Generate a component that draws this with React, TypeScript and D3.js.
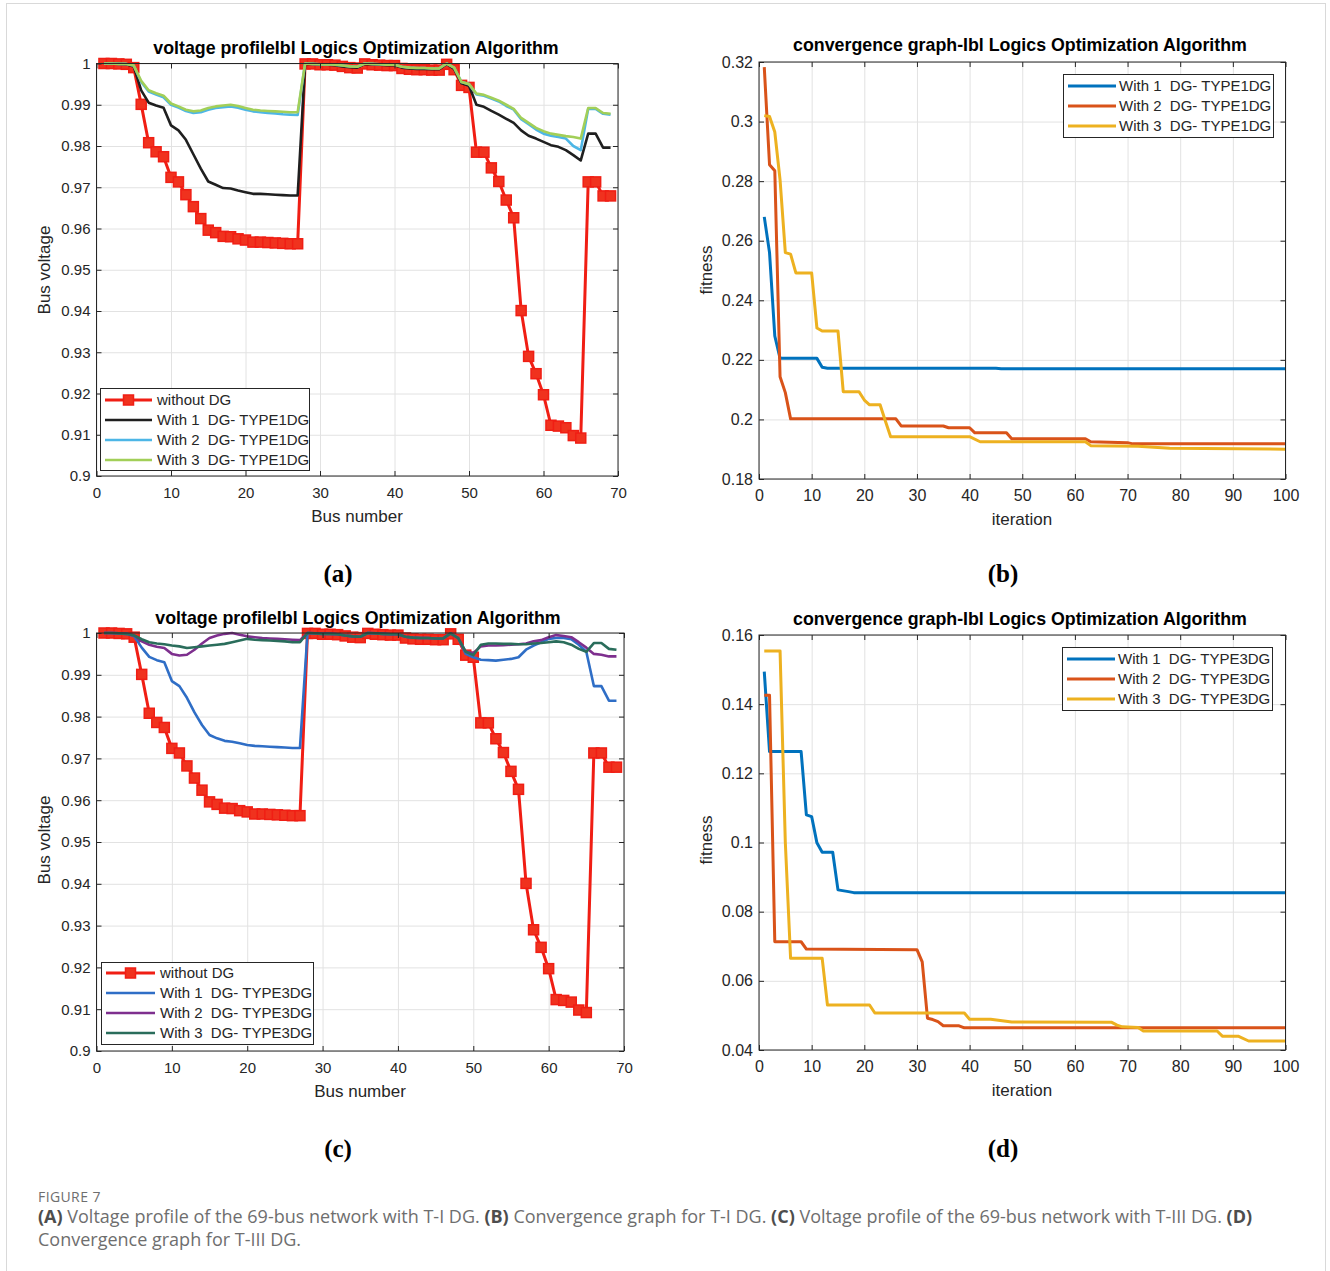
import React, { useRef, useEffect } from 'react';
import * as d3 from 'd3';

// ---- data ----
const busNumbers = d3.range(1, 70);
const busTicks = [0, 10, 20, 30, 40, 50, 60, 70];
const voltageTicks = [0.9, 0.91, 0.92, 0.93, 0.94, 0.95, 0.96, 0.97, 0.98, 0.99, 1];
const iterTicks = [0, 10, 20, 30, 40, 50, 60, 70, 80, 90, 100];
const fitnessTicksB = [0.18, 0.2, 0.22, 0.24, 0.26, 0.28, 0.3, 0.32];
const fitnessTicksD = [0.04, 0.06, 0.08, 0.1, 0.12, 0.14, 0.16];

const voltageNoDG = [
  1.0000, 1.0000, 0.9999, 0.9998, 0.9990, 0.9901, 0.9808, 0.9786, 0.9774, 0.9724,
  0.9713, 0.9682, 0.9653, 0.9624, 0.9596, 0.9590, 0.9581, 0.9580, 0.9575, 0.9572,
  0.9567, 0.9567, 0.9566, 0.9565, 0.9564, 0.9563, 0.9563, 0.9999, 0.9999, 0.9997,
  0.9997, 0.9996, 0.9993, 0.9990, 0.9989, 0.9999, 0.9997, 0.9996, 0.9995, 0.9995,
  0.9988, 0.9986, 0.9985, 0.9985, 0.9984, 0.9984, 0.9998, 0.9985, 0.9947, 0.9942,
  0.9785, 0.9785, 0.9747, 0.9714, 0.9669, 0.9626, 0.9401, 0.9290, 0.9248, 0.9197,
  0.9123, 0.9121, 0.9117, 0.9098, 0.9092, 0.9713, 0.9713, 0.9679, 0.9679,
];

const voltageT1DG1 = [
  1.0000, 1.0000, 0.9999, 0.9998, 0.9993, 0.9935, 0.9905, 0.9898, 0.9893, 0.9850,
  0.9838, 0.9815, 0.9780, 0.9745, 0.9714, 0.9706, 0.9698, 0.9697, 0.9692, 0.9688,
  0.9684, 0.9684, 0.9683, 0.9682, 0.9681, 0.9680, 0.9680, 0.9999, 0.9999, 0.9997,
  0.9997, 0.9996, 0.9993, 0.9991, 0.9990, 0.9999, 0.9998, 0.9997, 0.9996, 0.9996,
  0.9990, 0.9988, 0.9987, 0.9987, 0.9986, 0.9986, 0.9999, 0.9987, 0.9952, 0.9946,
  0.9900, 0.9895, 0.9885, 0.9876, 0.9866, 0.9856, 0.9838, 0.9825, 0.9818, 0.9810,
  0.9802, 0.9798, 0.9790, 0.9778, 0.9765, 0.9830, 0.9830, 0.9796, 0.9796,
];

const voltageT1DG2 = [
  1.0000, 1.0000, 0.9999, 0.9999, 0.9995, 0.9955, 0.9932, 0.9925, 0.9918, 0.9900,
  0.9893, 0.9885, 0.9880, 0.9882, 0.9888, 0.9892, 0.9894, 0.9896, 0.9893, 0.9888,
  0.9884, 0.9882, 0.9880, 0.9879, 0.9877, 0.9876, 0.9875, 1.0000, 0.9999, 0.9998,
  0.9998, 0.9997, 0.9995, 0.9993, 0.9992, 1.0000, 0.9999, 0.9998, 0.9997, 0.9997,
  0.9992, 0.9990, 0.9989, 0.9989, 0.9988, 0.9988, 1.0000, 0.9990, 0.9955, 0.9950,
  0.9925, 0.9922, 0.9915, 0.9908, 0.9897, 0.9888, 0.9865, 0.9853, 0.9840, 0.9830,
  0.9825, 0.9822, 0.9818, 0.9800, 0.9790, 0.9890, 0.9890, 0.9878, 0.9876,
];

const voltageT1DG3 = [
  1.0000, 1.0000, 0.9999, 0.9999, 0.9995, 0.9958, 0.9935, 0.9928, 0.9922, 0.9903,
  0.9896, 0.9888, 0.9884, 0.9886, 0.9892, 0.9896, 0.9898, 0.9900, 0.9897, 0.9892,
  0.9888, 0.9886, 0.9885, 0.9884, 0.9883, 0.9882, 0.9882, 1.0000, 0.9999, 0.9998,
  0.9998, 0.9997, 0.9995, 0.9993, 0.9992, 1.0000, 0.9999, 0.9998, 0.9997, 0.9997,
  0.9992, 0.9990, 0.9989, 0.9989, 0.9988, 0.9988, 1.0000, 0.9990, 0.9955, 0.9950,
  0.9927, 0.9924, 0.9917, 0.9910, 0.9900, 0.9890, 0.9868, 0.9856, 0.9844, 0.9836,
  0.9830, 0.9827, 0.9824, 0.9822, 0.9818, 0.9892, 0.9892, 0.9880, 0.9878,
];

const voltageT3DG1 = [
  1.0000, 1.0000, 0.9999, 0.9998, 0.9992, 0.9965, 0.9943, 0.9935, 0.9930, 0.9885,
  0.9873, 0.9845, 0.9810, 0.9780, 0.9756, 0.9748, 0.9742, 0.9740, 0.9736, 0.9732,
  0.9730, 0.9729, 0.9728, 0.9727, 0.9726, 0.9725, 0.9725, 1.0000, 0.9999, 0.9998,
  0.9998, 0.9997, 0.9994, 0.9992, 0.9991, 1.0000, 0.9999, 0.9998, 0.9997, 0.9997,
  0.9991, 0.9989, 0.9988, 0.9988, 0.9987, 0.9987, 0.9999, 0.9988, 0.9950, 0.9942,
  0.9936, 0.9935, 0.9934, 0.9936, 0.9938, 0.9942, 0.9960, 0.9970, 0.9978, 0.9986,
  0.9988, 0.9988, 0.9985, 0.9972, 0.9955, 0.9873, 0.9873, 0.9838, 0.9838,
];

const voltageT3DG2 = [
  1.0000, 1.0000, 0.9999, 0.9998, 0.9994, 0.9980, 0.9972, 0.9967, 0.9964, 0.9950,
  0.9946, 0.9948, 0.9960, 0.9975, 0.9988, 0.9994, 0.9998, 1.0000, 0.9996, 0.9992,
  0.9990, 0.9988, 0.9987, 0.9986, 0.9985, 0.9984, 0.9983, 1.0000, 0.9999, 0.9998,
  0.9998, 0.9997, 0.9994, 0.9992, 0.9991, 1.0000, 0.9999, 0.9998, 0.9997, 0.9997,
  0.9991, 0.9989, 0.9988, 0.9988, 0.9987, 0.9987, 0.9999, 0.9988, 0.9955, 0.9952,
  0.9968, 0.9970, 0.9970, 0.9971, 0.9972, 0.9973, 0.9975, 0.9980, 0.9983, 0.9990,
  0.9995, 0.9993, 0.9990, 0.9978, 0.9965, 0.9950, 0.9948, 0.9944, 0.9944,
];

const voltageT3DG3 = [
  1.0000, 1.0000, 0.9999, 0.9998, 0.9994, 0.9985, 0.9978, 0.9975, 0.9973, 0.9970,
  0.9968, 0.9964, 0.9966, 0.9968, 0.9970, 0.9972, 0.9974, 0.9978, 0.9982, 0.9986,
  0.9984, 0.9983, 0.9982, 0.9981, 0.9980, 0.9978, 0.9978, 1.0000, 0.9999, 0.9998,
  0.9998, 0.9997, 0.9994, 0.9992, 0.9991, 1.0000, 0.9999, 0.9998, 0.9997, 0.9997,
  0.9991, 0.9989, 0.9988, 0.9988, 0.9987, 0.9987, 0.9999, 0.9988, 0.9955, 0.9947,
  0.9972, 0.9975, 0.9975, 0.9974, 0.9974, 0.9973, 0.9973, 0.9975, 0.9976, 0.9978,
  0.9980, 0.9978, 0.9972, 0.9962, 0.9955, 0.9976, 0.9976, 0.9962, 0.9960,
];

// convergence curves: [iteration, fitness] at the corners of each step
const fitnessT1DG1: [number, number][] = [
  [1, 0.268], [2, 0.256], [3, 0.228], [4, 0.2205], [11, 0.2205], [12, 0.2175],
  [13, 0.2172], [45, 0.2172], [46, 0.217], [100, 0.217],
];
const fitnessT1DG2: [number, number][] = [
  [1, 0.3183], [2, 0.2855], [3, 0.2835], [4, 0.2143], [5, 0.209], [6, 0.2002],
  [26, 0.2002], [27, 0.1978], [35, 0.1978], [36, 0.1972], [40, 0.1972], [41, 0.1955],
  [47, 0.1955], [48, 0.1935], [62, 0.1935], [63, 0.1925], [70, 0.1922], [71, 0.1918],
  [100, 0.1918],
];
const fitnessT1DG3: [number, number][] = [
  [1, 0.302], [2, 0.3017], [3, 0.2965], [4, 0.2804], [5, 0.256], [6, 0.2555],
  [7, 0.2492], [10, 0.2492], [11, 0.2307], [12, 0.2297], [15, 0.2297], [16, 0.2093],
  [19, 0.2093], [20, 0.2065], [21, 0.2049], [23, 0.2049], [24, 0.1995], [25, 0.1942],
  [40, 0.1942], [42, 0.1925], [62, 0.1925], [63, 0.1912], [72, 0.191], [78, 0.1903],
  [100, 0.19],
];

const fitnessT3DG1: [number, number][] = [
  [1, 0.1494], [2, 0.1263], [8, 0.1263], [9, 0.108], [10, 0.1075], [11, 0.0999],
  [12, 0.0972], [14, 0.0972], [15, 0.0863], [17, 0.0858], [18, 0.0855], [100, 0.0855],
];
const fitnessT3DG2: [number, number][] = [
  [1, 0.1426], [2, 0.1426], [3, 0.0713], [8, 0.0713], [9, 0.0692], [30, 0.069],
  [31, 0.0655], [32, 0.0492], [33, 0.0488], [34, 0.0482], [35, 0.047], [38, 0.047],
  [39, 0.0464], [100, 0.0464],
];
const fitnessT3DG3: [number, number][] = [
  [1, 0.1554], [4, 0.1554], [5, 0.1], [6, 0.0665], [12, 0.0665], [13, 0.053],
  [21, 0.053], [22, 0.0507], [39, 0.0507], [40, 0.0489], [44, 0.0489], [48, 0.0481],
  [67, 0.048], [68, 0.0472], [69, 0.0467], [72, 0.0465], [73, 0.0455], [87, 0.0455],
  [88, 0.044], [91, 0.044], [93, 0.0426], [100, 0.0426],
];

// ---- styling ----
const FONT = "'Liberation Sans', Arial, Helvetica, sans-serif";
const AXIS = '#262626';
const GRID = '#e2e2e2';

interface Series {
  name: string;
  color: string;
  width: number;
  points: [number, number][];
  marker?: boolean;
}

interface Legend {
  x: number; y: number; w: number; h: number;
  firstRow: number; rowGap: number;
  sampleX1: number; sampleX2: number; textX: number;
}

interface Panel {
  left: number; right: number; top: number; bottom: number;
  xDomain: [number, number]; yDomain: [number, number];
  xTicks: number[]; yTicks: number[];
  tickFont: number; xPad: number;
  title: string; titleX: number; titleY: number;
  xLabel: string; xLabelX: number; xLabelY: number;
  yLabel: string; yLabelX: number; yLabelY: number;
  series: Series[];
  legend: Legend;
}

const byBus = (v: number[]): [number, number][] => v.map((d, i) => [busNumbers[i], d]);

const voltageSeries = (
  dg: { name: string; color: string; values: number[] }[]
): Series[] => [
  { name: 'without DG', color: '#f01e14', width: 3, points: byBus(voltageNoDG), marker: true },
  ...dg.map(d => ({ name: d.name, color: d.color, width: 2.6, points: byBus(d.values) })),
];

const panels: Panel[] = [
  {
    left: 96.5, right: 618, top: 63.5, bottom: 476,
    xDomain: [0, 70], yDomain: [0.9, 1], xTicks: busTicks, yTicks: voltageTicks,
    tickFont: 15, xPad: 11,
    title: 'voltage profileIbl Logics Optimization Algorithm', titleX: 356, titleY: 54,
    xLabel: 'Bus number', xLabelX: 357, xLabelY: 522,
    yLabel: 'Bus voltage', yLabelX: 50, yLabelY: 270,
    series: voltageSeries([
      { name: 'With 1  DG- TYPE1DG', color: '#1f1f1f', values: voltageT1DG1 },
      { name: 'With 2  DG- TYPE1DG', color: '#4db6e6', values: voltageT1DG2 },
      { name: 'With 3  DG- TYPE1DG', color: '#a2cf58', values: voltageT1DG3 },
    ]),
    legend: { x: 100.5, y: 388.5, w: 209, h: 82, firstRow: 400, rowGap: 20, sampleX1: 105, sampleX2: 152, textX: 157 },
  },
  {
    left: 759, right: 1285.5, top: 62, bottom: 479,
    xDomain: [0, 100], yDomain: [0.18, 0.32], xTicks: iterTicks, yTicks: fitnessTicksB,
    tickFont: 16, xPad: 11,
    title: 'convergence graph-Ibl Logics Optimization Algorithm', titleX: 1020, titleY: 51,
    xLabel: 'iteration', xLabelX: 1022, xLabelY: 525,
    yLabel: 'fitness', yLabelX: 712, yLabelY: 270,
    series: [
      { name: 'With 1  DG- TYPE1DG', color: '#0072bd', width: 3, points: fitnessT1DG1 },
      { name: 'With 2  DG- TYPE1DG', color: '#d95319', width: 3, points: fitnessT1DG2 },
      { name: 'With 3  DG- TYPE1DG', color: '#edb120', width: 3, points: fitnessT1DG3 },
    ],
    legend: { x: 1063.5, y: 74.5, w: 210, h: 63, firstRow: 86, rowGap: 20, sampleX1: 1068, sampleX2: 1116, textX: 1119 },
  },
  {
    left: 96.5, right: 624, top: 633, bottom: 1051,
    xDomain: [0, 70], yDomain: [0.9, 1], xTicks: busTicks, yTicks: voltageTicks,
    tickFont: 15, xPad: 11,
    title: 'voltage profileIbl Logics Optimization Algorithm', titleX: 358, titleY: 624,
    xLabel: 'Bus number', xLabelX: 360, xLabelY: 1097,
    yLabel: 'Bus voltage', yLabelX: 50, yLabelY: 840,
    series: voltageSeries([
      { name: 'With 1  DG- TYPE3DG', color: '#2f6ec6', values: voltageT3DG1 },
      { name: 'With 2  DG- TYPE3DG', color: '#7e2f8e', values: voltageT3DG2 },
      { name: 'With 3  DG- TYPE3DG', color: '#2a6d5b', values: voltageT3DG3 },
    ]),
    legend: { x: 101.5, y: 962.5, w: 212, h: 82, firstRow: 973, rowGap: 20, sampleX1: 106, sampleX2: 155, textX: 160 },
  },
  {
    left: 759, right: 1285.5, top: 635, bottom: 1050,
    xDomain: [0, 100], yDomain: [0.04, 0.16], xTicks: iterTicks, yTicks: fitnessTicksD,
    tickFont: 16, xPad: 11,
    title: 'convergence graph-Ibl Logics Optimization Algorithm', titleX: 1020, titleY: 625,
    xLabel: 'iteration', xLabelX: 1022, xLabelY: 1096,
    yLabel: 'fitness', yLabelX: 712, yLabelY: 840,
    series: [
      { name: 'With 1  DG- TYPE3DG', color: '#0072bd', width: 3, points: fitnessT3DG1 },
      { name: 'With 2  DG- TYPE3DG', color: '#d95319', width: 3, points: fitnessT3DG2 },
      { name: 'With 3  DG- TYPE3DG', color: '#edb120', width: 3, points: fitnessT3DG3 },
    ],
    legend: { x: 1062.5, y: 647.5, w: 210, h: 63, firstRow: 659, rowGap: 20, sampleX1: 1067, sampleX2: 1115, textX: 1118 },
  },
];

const panelTags = [
  { text: '(a)', x: 338, y: 582 },
  { text: '(b)', x: 1003, y: 582 },
  { text: '(c)', x: 338, y: 1157 },
  { text: '(d)', x: 1003, y: 1157 },
];

const MARKER = 10;

function drawPanel(svg: d3.Selection<SVGSVGElement, unknown, null, undefined>, p: Panel) {
  const x = d3.scaleLinear().domain(p.xDomain).range([p.left, p.right]);
  const y = d3.scaleLinear().domain(p.yDomain).range([p.bottom, p.top]);
  const w = p.right - p.left;
  const h = p.bottom - p.top;
  const fmt = d3.format('~g');

  const g = svg.append('g');

  g.append('rect')
    .attr('x', p.left).attr('y', p.top).attr('width', w).attr('height', h)
    .attr('fill', '#fff');

  // grid
  const gridX = g.append('g')
    .attr('transform', `translate(0,${p.bottom})`)
    .call(d3.axisBottom(x).tickValues(p.xTicks).tickSize(-h).tickFormat(() => ''));
  const gridY = g.append('g')
    .attr('transform', `translate(${p.left},0)`)
    .call(d3.axisLeft(y).tickValues(p.yTicks).tickSize(-w).tickFormat(() => ''));
  [gridX, gridY].forEach(s => {
    s.select('.domain').remove();
    s.selectAll('line').attr('stroke', GRID).attr('stroke-width', 1);
  });

  // lines
  const line = d3.line<[number, number]>().x(d => x(d[0])).y(d => y(d[1]));
  p.series.forEach(s => {
    g.append('path')
      .datum(s.points)
      .attr('d', line)
      .attr('fill', 'none')
      .attr('stroke', s.color)
      .attr('stroke-width', s.width)
      .attr('stroke-linejoin', 'round');
    if (s.marker) {
      g.append('g').selectAll('rect')
        .data(s.points)
        .enter().append('rect')
        .attr('x', d => x(d[0]) - MARKER / 2)
        .attr('y', d => y(d[1]) - MARKER / 2)
        .attr('width', MARKER).attr('height', MARKER)
        .attr('fill', '#f0321e')
        .attr('stroke', s.color)
        .attr('stroke-width', 1.5);
    }
  });

  // axes with inward ticks on all four sides
  const bottom = g.append('g')
    .attr('transform', `translate(0,${p.bottom})`)
    .call(d3.axisBottom(x).tickValues(p.xTicks).tickSize(-5).tickPadding(p.xPad).tickFormat(d => fmt(+d)));
  const left = g.append('g')
    .attr('transform', `translate(${p.left},0)`)
    .call(d3.axisLeft(y).tickValues(p.yTicks).tickSize(-5).tickPadding(6).tickFormat(d => fmt(+d)));
  const top = g.append('g')
    .attr('transform', `translate(0,${p.top})`)
    .call(d3.axisTop(x).tickValues(p.xTicks).tickSize(-5).tickFormat(() => ''));
  const right = g.append('g')
    .attr('transform', `translate(${p.right},0)`)
    .call(d3.axisRight(y).tickValues(p.yTicks).tickSize(-5).tickFormat(() => ''));
  [bottom, left, top, right].forEach(s => {
    s.select('.domain').remove();
    s.selectAll('line').attr('stroke', AXIS);
    s.selectAll('text')
      .attr('fill', '#262626')
      .attr('font-family', FONT)
      .attr('font-size', p.tickFont);
  });

  g.append('rect')
    .attr('x', p.left).attr('y', p.top).attr('width', w).attr('height', h)
    .attr('fill', 'none').attr('stroke', AXIS).attr('stroke-width', 1);

  // title and axis labels
  g.append('text')
    .attr('x', p.titleX).attr('y', p.titleY)
    .attr('text-anchor', 'middle')
    .attr('font-family', FONT).attr('font-size', 17.8).attr('font-weight', 'bold')
    .attr('fill', '#000')
    .text(p.title);
  g.append('text')
    .attr('x', p.xLabelX).attr('y', p.xLabelY)
    .attr('text-anchor', 'middle')
    .attr('font-family', FONT).attr('font-size', 17).attr('fill', '#262626')
    .text(p.xLabel);
  g.append('text')
    .attr('transform', `translate(${p.yLabelX},${p.yLabelY}) rotate(-90)`)
    .attr('text-anchor', 'middle')
    .attr('font-family', FONT).attr('font-size', 17).attr('fill', '#262626')
    .text(p.yLabel);

  // legend
  const L = p.legend;
  const lg = g.append('g');
  lg.append('rect')
    .attr('x', L.x).attr('y', L.y).attr('width', L.w).attr('height', L.h)
    .attr('fill', '#fff').attr('stroke', AXIS).attr('stroke-width', 1);
  p.series.forEach((s, i) => {
    const ry = L.firstRow + i * L.rowGap;
    lg.append('line')
      .attr('x1', L.sampleX1).attr('x2', L.sampleX2)
      .attr('y1', ry).attr('y2', ry)
      .attr('stroke', s.color).attr('stroke-width', s.width);
    if (s.marker) {
      const cx = (L.sampleX1 + L.sampleX2) / 2;
      lg.append('rect')
        .attr('x', cx - MARKER / 2).attr('y', ry - MARKER / 2)
        .attr('width', MARKER).attr('height', MARKER)
        .attr('fill', '#f0321e').attr('stroke', s.color).attr('stroke-width', 1.5);
    }
    lg.append('text')
      .attr('x', L.textX).attr('y', ry)
      .attr('dy', '0.35em')
      .attr('font-family', FONT).attr('font-size', 15).attr('fill', '#262626')
      .style('white-space', 'pre')
      .text(s.name);
  });
}

export default function App() {
  const svgRef = useRef<SVGSVGElement>(null);

  useEffect(() => {
    if (!svgRef.current) return;
    const svg = d3.select(svgRef.current);
    svg.selectAll('*').remove();

    svg.append('rect')
      .attr('x', 6.5).attr('y', 3.5).attr('width', 1319).attr('height', 1280)
      .attr('fill', 'none').attr('stroke', '#d9d9d9');

    panels.forEach(p => drawPanel(svg, p));

    panelTags.forEach(t => {
      svg.append('text')
        .attr('x', t.x).attr('y', t.y)
        .attr('text-anchor', 'middle')
        .attr('font-family', "'Liberation Serif', 'Times New Roman', serif")
        .attr('font-size', 25).attr('font-weight', 'bold')
        .attr('fill', '#000')
        .text(t.text);
    });

    // caption
    const capFont = "'Open Sans', 'Noto Sans', sans-serif";
    svg.append('text')
      .attr('x', 38).attr('y', 1202)
      .attr('font-family', capFont).attr('font-size', 14)
      .attr('letter-spacing', 0.4)
      .attr('fill', '#6e6e6e')
      .text('FIGURE 7');

    const capLines = [
      [
        ['(A)', true], [' Voltage profile of the 69-bus network with T-I DG. ', false],
        ['(B)', true], [' Convergence graph for T-I DG. ', false],
        ['(C)', true], [' Voltage profile of the 69-bus network with T-III DG. ', false],
        ['(D)', true],
      ],
      [['Convergence graph for T-III DG.', false]],
    ] as [string, boolean][][];
    capLines.forEach((parts, i) => {
      const t = svg.append('text')
        .attr('x', 38).attr('y', 1223 + i * 23)
        .attr('font-family', capFont).attr('font-size', 18)
        .attr('fill', '#6e6e6e')
        .style('white-space', 'pre');
      parts.forEach(([s, bold]) => {
        t.append('tspan')
          .attr('font-weight', bold ? 'bold' : 'normal')
          .attr('fill', bold ? '#4d4d4d' : '#6e6e6e')
          .text(s);
      });
    });
  }, []);

  return (
    <svg
      ref={svgRef}
      width={1330}
      height={1271}
      style={{ position: 'absolute', left: 0, top: 0, background: '#fff' }}
    />
  );
}
